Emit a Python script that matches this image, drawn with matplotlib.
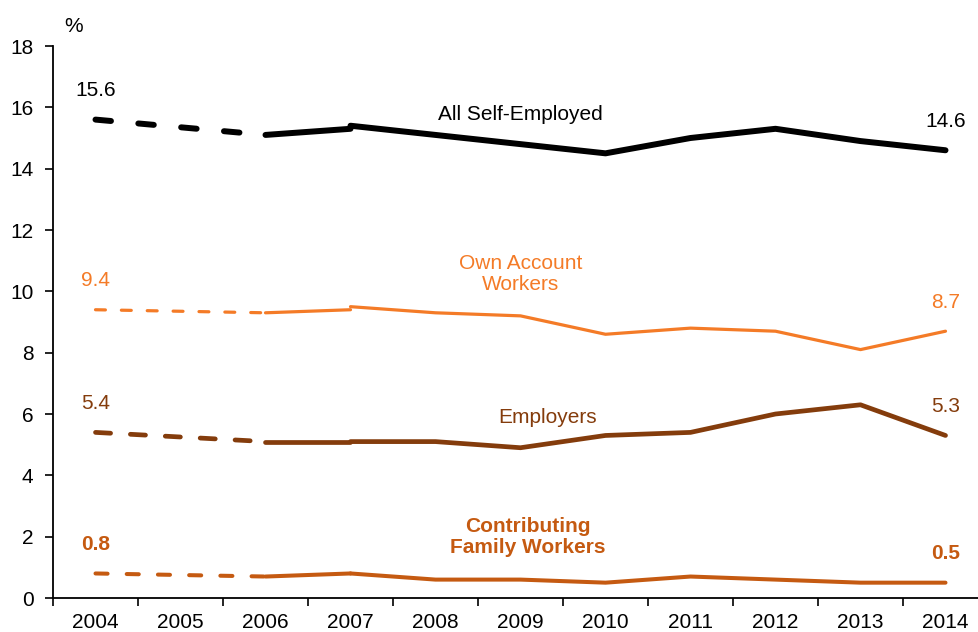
import numpy as np
import matplotlib
matplotlib.use("Agg")
import matplotlib.pyplot as plt

plt.rcParams['font.family'] = ['Liberation Sans', 'DejaVu Sans']

years = ['2004', '2005', '2006', '2007', '2008', '2009', '2010', '2011', '2012', '2013', '2014']

# 2005 not observed (dashed gap), 2007 has a series break: old value / new value
all_self_old = [15.6, np.nan, 15.1, 15.3]
all_self_new = [15.4, 15.1, 14.8, 14.5, 15.0, 15.3, 14.9, 14.6]

own_account_old = [9.4, np.nan, 9.3, 9.4]
own_account_new = [9.5, 9.3, 9.2, 8.6, 8.8, 8.7, 8.1, 8.7]

employers_old = [5.4, np.nan, 5.1, 5.1]
employers_new = [5.1, 5.1, 4.9, 5.3, 5.4, 6.0, 6.3, 5.3]

family_old = [0.8, np.nan, 0.7, 0.8]
family_new = [0.8, 0.6, 0.6, 0.5, 0.7, 0.6, 0.5, 0.5]

series = [
    # old, new, colour, width, dashes, name, name pos, bold
    (all_self_old, all_self_new, 'black', 4.3, (2.6, 4.6), 'All Self-Employed', (5.0, 15.78), False),
    (own_account_old, own_account_new, '#F47B27', 2.3, (3.1, 5.0), 'Own Account\nWorkers', (5.0, 10.56), False),
    (employers_old, employers_new, '#843C0C', 3.4, (3.2, 4.2), 'Employers', (5.32, 5.9), False),
    (family_old, family_new, '#C55A11', 2.9, (3.0, 4.75), 'Contributing\nFamily Workers', (5.09, 1.99), True),
]

fig = plt.figure(figsize=(9.79, 6.32), dpi=100)
ax = fig.add_axes([53 / 979, 34 / 632, 935 / 979, 552 / 632])

x = np.arange(len(years))
for old, new, col, lw, dash, name, pos, bold in series:
    old = np.array(old, dtype=float)
    # dashed: 2004 -> 2006 skipping the missing 2005
    ok = ~np.isnan(old[:3])
    ax.plot(x[:3][ok], old[:3][ok], color=col, lw=lw, linestyle=(0, dash),
            dash_capstyle='round')
    # solid: 2006 -> 2007 (old basis)
    ax.plot(x[2:4], old[2:4], color=col, lw=lw, solid_capstyle='round')
    # solid: 2007 -> 2014 (new basis)
    ax.plot(x[3:], new, color=col, lw=lw, solid_capstyle='round', solid_joinstyle='round')

    weight = 'bold' if bold else 'normal'
    ax.annotate(f"{old[0]:.1f}", (x[0], old[0]), xytext=(0, 21), textcoords='offset points',
                ha='center', va='center', fontsize=15, color=col, fontweight=weight)
    ax.annotate(f"{new[-1]:.1f}", (x[-1], new[-1]), xytext=(0, 21), textcoords='offset points',
                ha='center', va='center', fontsize=15, color=col, fontweight=weight)
    ax.text(pos[0], pos[1], name, ha='center', va='center', fontsize=15, color=col,
            fontweight=weight, linespacing=1.1)

ax.set_xlim(-0.5, len(years) - 0.5)
ax.set_ylim(0, 18)
ax.set_yticks(np.arange(0, 19, 2))

ax.set_xticks(np.arange(-0.5, len(years), 1.0))
ax.set_xticklabels([])
ax.set_xticks(x, minor=True)
ax.set_xticklabels(years, minor=True)
ax.tick_params(axis='x', which='major', length=6, width=1.2, direction='out')
ax.tick_params(axis='x', which='minor', length=0, labelsize=15, pad=11)
ax.tick_params(axis='y', length=6, width=1.2, direction='out', labelsize=15, pad=8)

for side in ['top', 'right']:
    ax.spines[side].set_visible(False)
for side in ['left', 'bottom']:
    ax.spines[side].set_linewidth(1.3)

fig.text(74 / 979, 1 - 26 / 632, '%', ha='center', va='center', fontsize=15)

fig.savefig('out.png', dpi=100)
